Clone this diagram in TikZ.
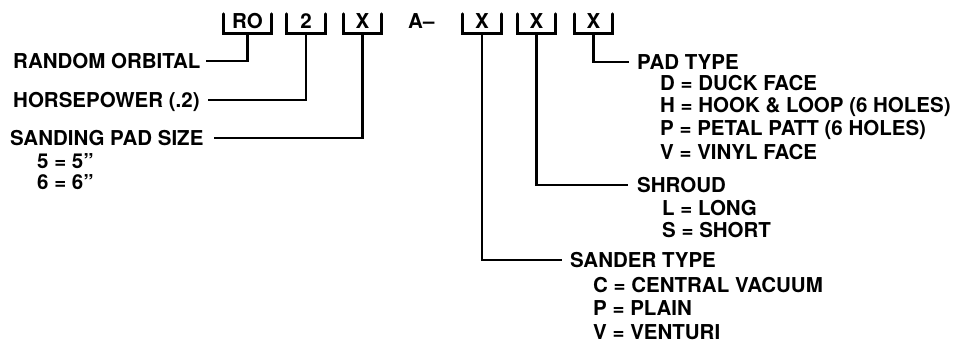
\documentclass[tikz,border=0pt]{standalone}
\usepackage{fontspec}
\setmainfont{TeX Gyre Heros}
\begin{document}
\begin{tikzpicture}[x=1pt,y=-1pt,
  lbl/.style={font=\fontsize{20.5}{24}\bfseries\selectfont, inner sep=0pt, anchor=base west, text height=15pt, text depth=0pt},
  code/.style={font=\fontsize{20.5}{24}\bfseries\selectfont, inner sep=0pt, anchor=base, text height=15pt, text depth=4pt, minimum width=38pt},
  lead/.style={line width=2.8pt, line join=miter, line cap=butt},
  brk/.style={line width=2.8pt, line join=miter, line cap=round}]
\useasboundingbox (0,0) rectangle (974,344);
% code letters
\node[code, minimum width=47pt] (c1) at (247.5,29) {RO};
\node[code] (c2) at (306,29) {2};
\node[code] (c3) at (362.5,29) {X};
\node[lbl] (a) at (408,29) {A–};
\node[code] (c4) at (482,29) {X};
\node[code] (c5) at (536.5,29) {X};
\node[code] (c6) at (593.5,29) {X};
\foreach \c in {c1,c2,c3,c4,c5,c6}
  \draw[brk] (\c.north west) -- (\c.south west) -- (\c.south east) -- (\c.north east);
% left labels
\node[lbl] (t1) at (13,68.5) {RANDOM ORBITAL};
\node[lbl] (t2) at (13,107.5) {HORSEPOWER (.2)};
\node[lbl] (t3) at (10,145.5) {SANDING PAD SIZE};
\node[lbl] (t3a) at (37,168.5) {5 = 5”};
\node[lbl] (t3b) at (37,189.5) {6 = 6”};
% right labels
\node[lbl] (t6) at (637,69.5) {PAD TYPE};
\node[lbl] (t6a) at (660,90.5) {D = DUCK FACE};
\node[lbl] (t6b) at (660,112.5) {H = HOOK \& LOOP (6 HOLES)};
\node[lbl] (t6c) at (660,135.5) {P = PETAL PATT (6 HOLES)};
\node[lbl] (t6d) at (660,159.5) {V = VINYL FACE};
\node[lbl] (t5) at (637,192.5) {SHROUD};
\node[lbl] (t5a) at (662,215.5) {L = LONG};
\node[lbl] (t5b) at (662,237.5) {S = SHORT};
\node[lbl] (t4) at (570,267.5) {SANDER TYPE};
\node[lbl] (t4a) at (593,292.5) {C = CENTRAL VACUUM};
\node[lbl] (t4b) at (593,315.5) {P = PLAIN};
\node[lbl] (t4c) at (593,339.5) {V = VENTURI};
% leaders
\draw[lead] (c1.south) |- ([xshift=5pt]t1.east);
\draw[lead] (c2.south) |- ([xshift=8pt]t2.east);
\draw[lead] (c3.south) |- ([xshift=10pt]t3.east);
\draw[lead] (c4.south) |- ([xshift=-8pt]t4.west);
\draw[lead] (c5.south) |- ([xshift=-9pt]t5.west);
\draw[lead] (c6.south) |- ([xshift=-8pt]t6.west);
\end{tikzpicture}
\end{document}
